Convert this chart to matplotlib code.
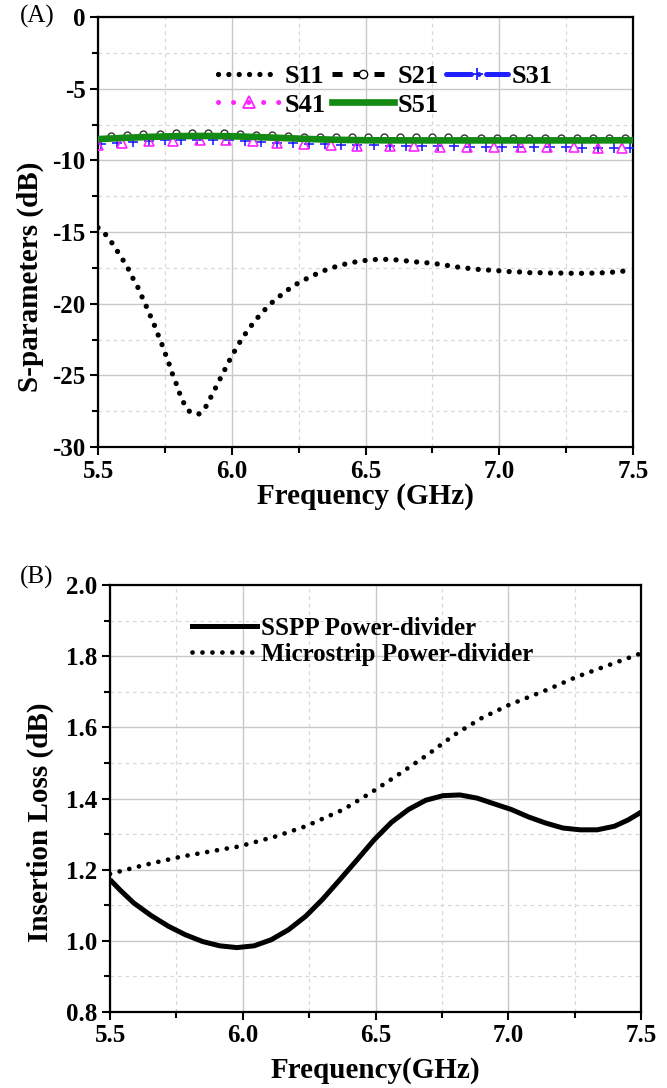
import matplotlib
matplotlib.use("Agg")
import matplotlib.pyplot as plt
from matplotlib.lines import Line2D
from matplotlib.ticker import MultipleLocator

plt.rcParams['font.family'] = ['Liberation Serif', 'DejaVu Serif']

# ---------------- Panel A data ----------------
s11_freq = [5.500, 5.517, 5.545, 5.568, 5.591, 5.612, 5.630, 5.649, 5.665, 5.681, 5.696,
            5.711, 5.725, 5.739, 5.752, 5.765, 5.777, 5.791, 5.803, 5.818, 5.839, 5.876,
            5.906, 5.924, 5.942, 5.960, 5.978, 5.996, 6.016, 6.037, 6.062, 6.089, 6.120,
            6.155, 6.191, 6.226, 6.262, 6.298, 6.334, 6.369, 6.405, 6.440, 6.475, 6.513,
            6.548, 6.584, 6.619, 6.655, 6.690, 6.725, 6.761, 6.796, 6.831, 6.866, 6.902,
            6.937, 6.973, 7.008, 7.044, 7.079, 7.115, 7.150, 7.185, 7.221, 7.256, 7.292,
            7.327, 7.363, 7.398, 7.434, 7.469, 7.500]
s11_db = [-14.70, -14.91, -15.56, -16.21, -16.88, -17.53, -18.21, -18.86, -19.54, -20.21, -20.86,
          -21.51, -22.19, -22.84, -23.51, -24.16, -24.84, -25.51, -26.16, -26.84, -27.49, -27.72,
          -27.12, -26.44, -25.79, -25.11, -24.46, -23.79, -23.14, -22.47, -21.81, -21.14, -20.49,
          -19.84, -19.30, -18.81, -18.42, -18.09, -17.77, -17.53, -17.33, -17.16, -17.05, -16.95,
          -16.91, -16.91, -16.95, -17.02, -17.09, -17.14, -17.21, -17.30, -17.42, -17.49, -17.58,
          -17.63, -17.67, -17.72, -17.77, -17.79, -17.84, -17.84, -17.86, -17.86, -17.88, -17.88,
          -17.88, -17.86, -17.84, -17.79, -17.72, -17.68]

s21_freq = [5.55, 5.61, 5.67, 5.73, 5.79, 5.85, 5.91, 5.97, 6.03, 6.09, 6.15, 6.21, 6.27,
            6.33, 6.39, 6.45, 6.51, 6.57, 6.63, 6.69, 6.75, 6.81, 6.87, 6.93, 6.99, 7.05,
            7.11, 7.17, 7.23, 7.29, 7.35, 7.41, 7.47]
s21_db = [-8.30, -8.24, -8.18, -8.14, -8.11, -8.10, -8.10, -8.12, -8.16, -8.21, -8.26, -8.30, -8.34,
          -8.36, -8.38, -8.39, -8.40, -8.40, -8.40, -8.40, -8.40, -8.40, -8.41, -8.41, -8.41, -8.41,
          -8.41, -8.42, -8.42, -8.42, -8.42, -8.43, -8.44]

s31_freq = [5.51, 5.57, 5.63, 5.69, 5.75, 5.81, 5.87, 5.93, 5.99, 6.05, 6.11, 6.17, 6.23,
            6.29, 6.35, 6.41, 6.47, 6.53, 6.59, 6.65, 6.71, 6.77, 6.83, 6.89, 6.95, 7.01,
            7.07, 7.13, 7.19, 7.25, 7.31, 7.37, 7.43, 7.49]
s31_db = [-8.85, -8.80, -8.72, -8.66, -8.60, -8.56, -8.55, -8.56, -8.60, -8.66, -8.72, -8.76, -8.80,
          -8.84, -8.88, -8.90, -8.93, -8.95, -8.97, -8.99, -9.00, -9.02, -9.03, -9.04, -9.05, -9.06,
          -9.07, -9.08, -9.09, -9.10, -9.11, -9.12, -9.14, -9.16]

s41_freq = [5.50, 5.59, 5.69, 5.78, 5.88, 5.98, 6.08, 6.17, 6.27, 6.37, 6.47, 6.59, 6.68,
            6.78, 6.88, 6.98, 7.08, 7.18, 7.28, 7.37, 7.46]
s41_db = [-8.90, -8.78, -8.68, -8.63, -8.60, -8.61, -8.68, -8.76, -8.84, -8.92, -8.97, -9.02, -9.03,
          -9.04, -9.05, -9.05, -9.07, -9.08, -9.10, -9.12, -9.16]

s51_freq = [5.50, 5.60, 5.70, 5.80, 5.90, 6.00, 6.10, 6.20, 6.30, 6.40, 6.50, 6.70, 6.90,
            7.10, 7.30, 7.50]
s51_db = [-8.52, -8.43, -8.36, -8.31, -8.30, -8.32, -8.38, -8.45, -8.52, -8.57, -8.60, -8.61, -8.61,
          -8.61, -8.61, -8.60]

# ---------------- Panel B data ----------------
sspp_freq = [5.500, 5.539, 5.590, 5.655, 5.720, 5.784, 5.849, 5.913, 5.978, 6.043, 6.107,
             6.172, 6.237, 6.301, 6.366, 6.431, 6.495, 6.560, 6.624, 6.689, 6.754, 6.818,
             6.883, 6.947, 7.012, 7.077, 7.141, 7.206, 7.271, 7.335, 7.400, 7.452, 7.488, 7.500]
sspp_il = [1.172, 1.142, 1.106, 1.071, 1.041, 1.017, 0.998, 0.986, 0.981, 0.986, 1.003,
           1.031, 1.069, 1.117, 1.172, 1.228, 1.284, 1.333, 1.369, 1.395, 1.408, 1.410,
           1.401, 1.385, 1.369, 1.348, 1.331, 1.317, 1.312, 1.312, 1.322, 1.340, 1.356, 1.362]

micro_freq = [5.500, 5.629, 5.771, 5.914, 5.985, 6.127, 6.237, 6.379, 6.482, 6.586, 6.696,
              6.799, 6.902, 7.006, 7.148, 7.258, 7.368, 7.471, 7.500]
micro_il = [1.188, 1.213, 1.237, 1.256, 1.265, 1.294, 1.322, 1.369, 1.416, 1.467, 1.523,
            1.580, 1.627, 1.664, 1.706, 1.742, 1.772, 1.800, 1.808]

x_ticks = [5.5, 6.0, 6.5, 7.0, 7.5]
x_ticklabels = ['5.5', '6.0', '6.5', '7.0', '7.5']
ya_ticks = [0, -5, -10, -15, -20, -25, -30]
yb_ticks = [0.8, 1.0, 1.2, 1.4, 1.6, 1.8, 2.0]

W, H = 667, 1088
fig = plt.figure(figsize=(W / 100, H / 100), dpi=100)

TICK_FS = 18
LABEL_FS = 21
LEG_FS = 19

dotted = (0, (0.01, 1.95))


def style_axes(ax, xmin, xmax, ymin, ymax, ymaj, ymin_step):
    ax.set_xlim(xmin, xmax)
    ax.set_ylim(ymin, ymax)
    ax.xaxis.set_major_locator(MultipleLocator(0.5))
    ax.xaxis.set_minor_locator(MultipleLocator(0.25))
    ax.yaxis.set_major_locator(MultipleLocator(ymaj))
    ax.yaxis.set_minor_locator(MultipleLocator(ymin_step))
    ax.grid(which='major', color='#c8c8c8', lw=1.0, ls='-')
    ax.grid(which='minor', color='#d8d8d8', lw=0.9, ls=(0, (3, 3)))
    ax.set_axisbelow(True)
    for s in ax.spines.values():
        s.set_linewidth(1.6)
    ax.tick_params(which='both', direction='out', top=False, right=False, width=1.5)
    ax.tick_params(which='major', length=6, labelsize=TICK_FS, pad=3)
    ax.tick_params(which='minor', length=4)


# ---------------- Panel A ----------------
axA = fig.add_axes([98 / W, 1 - 447 / H, 535 / W, 430 / H])
axA.plot(s11_freq, s11_db, color='black', lw=3.8, ls=dotted, dash_capstyle='round', zorder=3)
axA.plot(s21_freq, s21_db, ls='none', marker='o', mfc='white', mec='#333333', ms=5, mew=1.0, zorder=3)
axA.plot(s31_freq, s31_db, ls='none', marker='+', color='#2020ff', ms=7, mew=1.2, zorder=3)
axA.plot(s41_freq, s41_db, ls='none', marker='^', mfc='none', mec='#ff22ff', ms=7, mew=1.2, zorder=3)
axA.plot(s51_freq, s51_db, color='#138a13', lw=4.8, solid_capstyle='butt', zorder=4)

style_axes(axA, 5.5, 7.5, -30, 0, 5, 2.5)
axA.set_xticks(x_ticks)
axA.set_xticklabels(x_ticklabels, fontweight='bold', fontsize=TICK_FS)
axA.set_yticks(ya_ticks)
axA.set_yticklabels([str(v) for v in ya_ticks], fontweight='bold', fontsize=TICK_FS)
axA.set_xlabel('Frequency (GHz)', fontsize=LABEL_FS, fontweight='bold', labelpad=0)
axA.set_ylabel('S-parameters (dB)', fontsize=LABEL_FS, fontweight='bold')
axA.yaxis.set_label_coords(-0.10, 0.395)

hA = [
    Line2D([], [], color='black', lw=3.8, ls=dotted, dash_capstyle='round'),
    Line2D([], [], color='#ff22ff', lw=3.6, ls=(0, (0.01, 3.0)), dash_capstyle='round',
           marker='^', mfc='none', mec='#ff22ff', ms=8, mew=1.3),
    Line2D([], [], color='black', lw=3.6, ls=(0, (2.0, 2.2)), marker='o', mfc='white',
           mec='black', ms=6, mew=1.0),
    Line2D([], [], color='#138a13', lw=4.8),
    Line2D([], [], color='#2020ff', lw=3.6, ls=(0, (5, 1.5, 0.01, 1.5)), dash_capstyle='round',
           marker='+', ms=8, mew=1.3),
]
lA = ['S11', 'S41', 'S21', 'S51', 'S31']
legA = axA.legend(hA, lA, ncol=3, loc='upper left', bbox_to_anchor=(0.225, 0.89),
                  frameon=False, prop={'weight': 'bold', 'size': LEG_FS},
                  handlelength=2.35, handletextpad=0.15, columnspacing=0.25,
                  labelspacing=0.2, borderpad=0.0, borderaxespad=0.0, numpoints=1)

fig.text(37 / W, 1 - 16 / H, '(A)', fontsize=18, ha='center', va='center')

# ---------------- Panel B ----------------
axB = fig.add_axes([110 / W, 1 - 1012 / H, 531 / W, 427 / H])
axB.plot(sspp_freq, sspp_il, color='black', lw=3.6, solid_capstyle='butt', solid_joinstyle='round')
axB.plot(micro_freq, micro_il, color='black', lw=3.4, ls=(0, (0.01, 2.1)), dash_capstyle='round')
style_axes(axB, 5.5, 7.5, 0.8, 2.0, 0.2, 0.1)
axB.set_xticks(x_ticks)
axB.set_xticklabels(x_ticklabels, fontweight='bold', fontsize=TICK_FS)
axB.set_yticks(yb_ticks)
axB.set_yticklabels(['%.1f' % v for v in yb_ticks], fontweight='bold', fontsize=TICK_FS)
axB.set_xlabel('Frequency(GHz)', fontsize=LABEL_FS, fontweight='bold', labelpad=7)
axB.set_ylabel('Insertion Loss (dB)', fontsize=LABEL_FS, fontweight='bold')
axB.yaxis.set_label_coords(-0.105, 0.445)

hB = [Line2D([], [], color='black', lw=3.6),
      Line2D([], [], color='black', lw=3.4, ls=(0, (0.01, 2.1)), dash_capstyle='round')]
legB = axB.legend(hB, ['SSPP Power-divider', 'Microstrip Power-divider'], loc='upper left',
                  bbox_to_anchor=(0.155, 0.925), frameon=False,
                  prop={'weight': 'bold', 'size': 18}, handlelength=2.6,
                  handletextpad=0.15, labelspacing=0.1, borderpad=0.0, borderaxespad=0.0)

fig.text(37 / W, 1 - 577 / H, '(B)', fontsize=18, ha='center', va='center')

fig.savefig('out.png', dpi=100)
